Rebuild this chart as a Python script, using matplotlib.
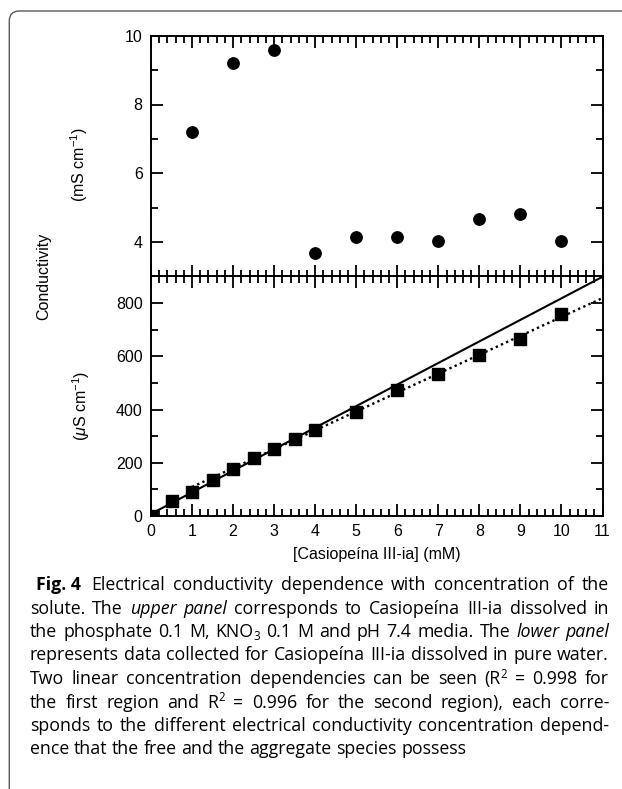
import matplotlib
matplotlib.use("Agg")
import matplotlib.pyplot as plt
from matplotlib.ticker import MultipleLocator
from matplotlib.patches import FancyBboxPatch

# upper panel: phosphate 0.1 M / KNO3 0.1 M / pH 7.4 media (mS cm-1)
conc_buffer = [1, 2, 3, 4, 5, 6, 7, 8, 9, 10]
cond_buffer = [7.2, 9.2, 9.57, 3.67, 4.16, 4.16, 4.03, 4.67, 4.83, 4.02]

# lower panel: pure water (uS cm-1)
conc_water = [0, 0.5, 1, 1.5, 2, 2.5, 3, 3.5, 4, 5, 6, 7, 8, 9, 10]
cond_water = [0, 55, 91, 137, 175, 217, 252, 290, 322, 390, 475, 535, 605, 665, 760]

# linear fits (slope, intercept, x range)
fit_free = (81.0, 8.0, (0, 11))
fit_aggr = (71.0, 38.0, (1, 11))

xticks = list(range(0, 12))
xlabel = "[Casiopeína III-ia] (mM)"

caption_lines = [
    "#Fig.~4# Electrical conductivity dependence with concentration of the",
    "solute. The *upper* *panel* corresponds to Casiopeína III-ia dissolved in",
    "the phosphate 0.1 M, KNO_3 0.1 M and pH 7.4 media. The *lower* *panel*",
    "represents data collected for Casiopeína III-ia dissolved in pure water.",
    "Two linear concentration dependencies can be seen (R^2 = 0.998 for",
    "the first region and R^2 = 0.996 for the second region), each corre-",
    "sponds to the different electrical conductivity concentration depend-",
    "ence that the free and the aggregate species possess",
]

W, H = 622, 789
plot_font = "Liberation Sans"
cap_font = "Open Sans"

plt.rcParams["font.family"] = [plot_font, "DejaVu Sans"]
plt.rcParams["mathtext.fontset"] = "custom"
plt.rcParams["mathtext.rm"] = plot_font
plt.rcParams["mathtext.it"] = plot_font + ":italic"

fig = plt.figure(figsize=(W / 100, H / 100), dpi=100)

# outer frame with rounded corner
frame = FancyBboxPatch((0.093, -0.5), 7.0, (H - 11) / 100 + 0.5,
                       boxstyle="round,pad=0,rounding_size=0.1",
                       transform=fig.dpi_scale_trans, fill=False,
                       edgecolor="#5a5a5a", linewidth=1.0)
fig.add_artist(frame)

ax1 = fig.add_axes([151 / W, 1 - 276.5 / H, 451.5 / W, 240.8 / H])
ax2 = fig.add_axes([151 / W, 1 - 516 / H, 451.5 / W, 239.5 / H])

ax1.plot(conc_buffer, cond_buffer, "o", color="black", markersize=8.2)
ax2.plot(conc_water, cond_water, "s", color="black", markersize=8.4, zorder=3)

for slope, icpt, (x0, x1), ls in [(*fit_free, "-"), (*fit_aggr, (0, (1, 1.4)))]:
    ax2.plot([x0, x1], [slope * x0 + icpt, slope * x1 + icpt], color="black",
             linestyle=ls, linewidth=1.5 if ls == "-" else 1.7, clip_on=True)

for ax in (ax1, ax2):
    ax.set_xlim(0, 11)
    ax.set_xticks(xticks)
    ax.xaxis.set_minor_locator(MultipleLocator(0.2))
    ax.tick_params(which="both", direction="in", top=True, right=True,
                   width=1.3, labelsize=11.5, pad=6)
    ax.tick_params(which="major", length=8.5)
    ax.tick_params(which="minor", length=5.3)
    for sp in ax.spines.values():
        sp.set_linewidth(1.4)

ax1.set_ylim(3, 10)
ax1.yaxis.set_major_locator(MultipleLocator(2))
ax1.yaxis.set_minor_locator(MultipleLocator(1))
ax1.tick_params(labelbottom=False)

ax2.set_ylim(0, 900)
ax2.yaxis.set_major_locator(MultipleLocator(200))
ax2.yaxis.set_minor_locator(MultipleLocator(100))
ax2.set_yticks([0, 200, 400, 600, 800])

fig.text(44 / W, 1 - 276 / H, "Conductivity", rotation=90, fontsize=11.5,
         ha="center", va="center")
fig.text(79 / W, 1 - 165 / H, "(mS cm$^{-1}$)", rotation=90, fontsize=11.5,
         ha="center", va="center")
fig.text(81 / W, 1 - 406 / H, r"($\mu$S cm$^{-1}$)", rotation=90, fontsize=11.5,
         ha="center", va="center")
fig.text(376.5 / W, 1 - 555 / H, xlabel, fontsize=11.5, ha="center", va="center")

# ---- caption, justified, drawn word by word ----
renderer = fig.canvas.get_renderer()


def word_runs(w):
    weight, style = "normal", "normal"
    if w.startswith("#"):
        weight = "bold"
        w = w.strip("#").replace("~", " ")
    elif w.startswith("*") and w.endswith("*"):
        style = "italic"
        w = w.strip("*")
    runs, buf, i = [], "", 0
    while i < len(w):
        c = w[i]
        if c in "_^" and i + 1 < len(w):
            if buf:
                runs.append((buf, weight, style, None))
                buf = ""
            runs.append((w[i + 1], weight, style, "sub" if c == "_" else "sup"))
            i += 2
            continue
        buf += c
        i += 1
    if buf:
        runs.append((buf, weight, style, None))
    return runs


def run_width(text, weight, style, size):
    t1 = fig.text(0, 0, text + "|", fontsize=size, fontweight=weight,
                  fontstyle=style, family=cap_font)
    t2 = fig.text(0, 0, "|", fontsize=size, fontweight=weight,
                  fontstyle=style, family=cap_font)
    w = t1.get_window_extent(renderer).width - t2.get_window_extent(renderer).width
    t1.remove()
    t2.remove()
    return w


def word_width(runs, size):
    total = 0
    for text, weight, style, script in runs:
        s = size * 0.65 if script else size
        total += run_width(text, weight, style, s)
    return total


left, right = 30, 609
base = 12.0
space = run_width(" ", "normal", "normal", base)
natural = []
for li, line in enumerate(caption_lines):
    words = [word_runs(w) for w in line.split(" ")]
    avail = right - left - (6 if li == 0 else 0)
    nat = sum(word_width(r, base) for r in words) + space * (len(words) - 1)
    natural.append(nat / avail)
cap_size = base / max(natural) * 0.985

space = run_width(" ", "normal", "normal", cap_size)
y0, dy = 590, 23.5
for li, line in enumerate(caption_lines):
    words = [word_runs(w) for w in line.split(" ")]
    widths = [word_width(r, cap_size) for r in words]
    start = left + (6 if li == 0 else 0)
    extra = 3 if li == 0 else 0
    if li < len(caption_lines) - 1:
        gap = (right - start - sum(widths) - extra) / (len(words) - 1)
    else:
        gap = space
    x = start
    yb = y0 + li * dy
    for wi, runs in enumerate(words):
        for text, weight, style, script in runs:
            s = cap_size * 0.65 if script else cap_size
            off = {"sub": -3.5, "sup": 6.5}.get(script, 0)
            fig.text(x / W, (H - yb + off) / H, text, fontsize=s,
                     fontweight=weight, fontstyle=style, family=cap_font,
                     va="baseline", ha="left")
            x += run_width(text, weight, style, s)
        x += gap + (extra if wi == 0 else 0)

fig.savefig("out.png", dpi=100)
